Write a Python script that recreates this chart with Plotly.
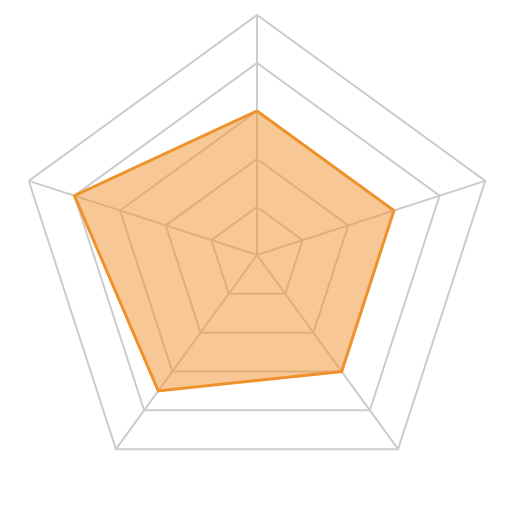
import plotly.graph_objects as go

# Radar axes, clockwise from the top
categories = ["A", "B", "C", "D", "E"]
values = [3, 3, 3, 3.5, 4]
max_value = 5

fig = go.Figure()

fig.add_trace(
    go.Scatterpolar(
        r=values + values[:1],
        theta=categories + categories[:1],
        mode="lines",
        fill="toself",
        fillcolor="rgba(240, 146, 43, 0.5)",
        line=dict(color="#F0922B", width=3),
        hoverinfo="skip",
    )
)

fig.update_layout(
    width=512,
    height=512,
    margin=dict(l=9, r=23, t=6, b=24),
    paper_bgcolor="white",
    showlegend=False,
    polar=dict(
        bgcolor="white",
        gridshape="linear",
        radialaxis=dict(
            range=[0, max_value],
            dtick=1,
            showticklabels=False,
            ticks="",
            showline=False,
            gridcolor="#CCCCCC",
            gridwidth=2,
        ),
        angularaxis=dict(
            rotation=90,
            direction="clockwise",
            showticklabels=False,
            ticks="",
            linecolor="#CCCCCC",
            linewidth=2,
            gridcolor="#CCCCCC",
            gridwidth=2,
        ),
    ),
)

fig.write_html("out.html")
